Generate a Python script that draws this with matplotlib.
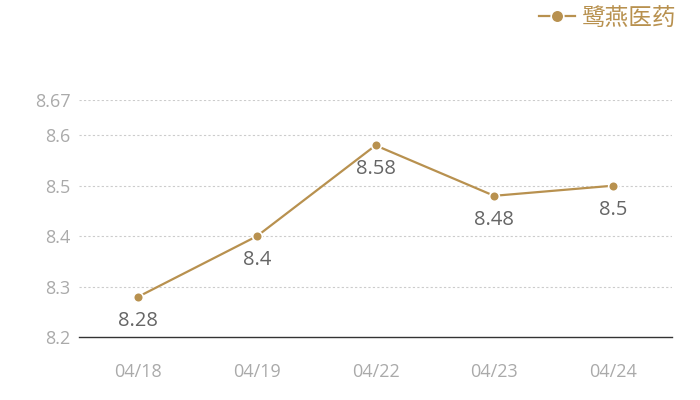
import matplotlib
matplotlib.use('Agg')
import matplotlib.pyplot as plt

dates = ['04/18', '04/19', '04/22', '04/23', '04/24']
prices = [8.28, 8.40, 8.58, 8.48, 8.50]
y_ticks = [8.2, 8.3, 8.4, 8.5, 8.6, 8.67]
y_tick_labels = ['8.2', '8.3', '8.4', '8.5', '8.6', '8.67']
series_name = '鹭燕医药'

gold = '#B8914F'

plt.rcParams['font.family'] = ['Open Sans', 'Noto Sans CJK SC', 'DejaVu Sans']

fig = plt.figure(figsize=(7, 4), dpi=100)
ax = fig.add_axes([0.113, 0.1575, 0.847, 0.5925])

x = list(range(len(dates)))
ax.plot(x, prices, color=gold, linewidth=1.6, marker='o', markersize=7,
        markerfacecolor=gold, markeredgecolor='white', markeredgewidth=1.2,
        label=series_name, zorder=3)

for xi, v in zip(x, prices):
    ax.annotate(f'{v:g}', (xi, v), textcoords='offset points', xytext=(0, -10),
                ha='center', va='top', fontsize=14.5, color='#666666')

ax.set_xlim(-0.5, len(dates) - 0.5)
ax.set_ylim(8.2, 8.67)
ax.set_xticks(x)
ax.set_xticklabels(dates)
ax.set_yticks(y_ticks)
ax.set_yticklabels(y_tick_labels)
ax.tick_params(axis='both', length=0, labelsize=13, colors='#AAAAAA')
ax.tick_params(axis='x', pad=19)
ax.tick_params(axis='y', pad=6)

for t in y_ticks[1:]:
    ax.axhline(t, color='#CCCCCC', linewidth=0.8, linestyle=(0, (2, 2)), zorder=1)

for side in ['top', 'right', 'left']:
    ax.spines[side].set_visible(False)
ax.spines['bottom'].set_color('#333333')
ax.spines['bottom'].set_linewidth(1.0)

leg = ax.legend(loc='upper right', bbox_to_anchor=(0.99, 1.025), bbox_transform=fig.transFigure,
                frameon=False, fontsize=17, labelcolor=gold, handlelength=1.5,
                handletextpad=0.3, borderpad=0.2, markerscale=1.3)

fig.savefig('out.png', dpi=100)
